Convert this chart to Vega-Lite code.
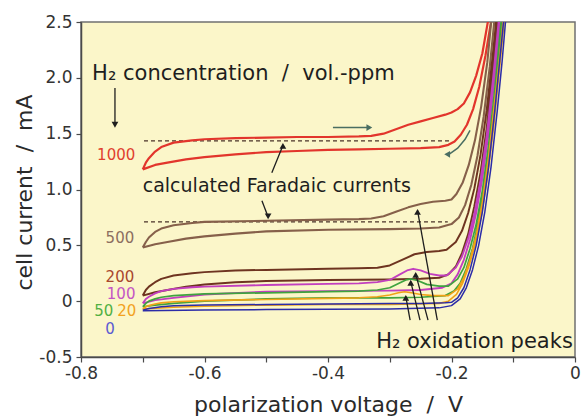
{
  "$schema": "https://vega.github.io/schema/vega-lite/v6.json",
  "width": 494,
  "height": 335,
  "autosize": {"type": "none"},
  "padding": {"left": 81, "top": 22, "right": 9, "bottom": 59},
  "background": "#ffffff",
  "config": {
    "view": {"stroke": "#707070", "strokeWidth": 1.5, "fill": "#fbf6c9"},
    "font": "DejaVu Sans",
    "axis": {
      "grid": false,
      "domainColor": "#4a4a4a",
      "domainWidth": 1.5,
      "tickColor": "#4a4a4a",
      "tickWidth": 1.2,
      "tickSize": 5,
      "labelFont": "DejaVu Sans",
      "labelFontSize": 17,
      "labelColor": "#333333",
      "titleFont": "DejaVu Sans",
      "titleFontSize": 22,
      "titleFontWeight": "normal",
      "titleColor": "#2a2a2a",
      "labelOverlap": false,
      "labelFlush": false
    }
  },
  "resolve": {"scale": {"color": "independent"}},
  "datasets": {
    "curves": [
      {"c":"1000","x":-0.7,"y":1.18},{"c":"1000","x":-0.695,"y":1.24},{"c":"1000","x":-0.69,"y":1.28},{"c":"1000","x":-0.68,"y":1.34},{"c":"1000","x":-0.67,"y":1.38},{"c":"1000","x":-0.65,"y":1.42},{"c":"1000","x":-0.62,"y":1.44},{"c":"1000","x":-0.6,"y":1.45},{"c":"1000","x":-0.55,"y":1.46},{"c":"1000","x":-0.5,"y":1.465},{"c":"1000","x":-0.45,"y":1.47},{"c":"1000","x":-0.4,"y":1.47},{"c":"1000","x":-0.35,"y":1.475},{"c":"1000","x":-0.33,"y":1.48},{"c":"1000","x":-0.31,"y":1.5},{"c":"1000","x":-0.29,"y":1.54},{"c":"1000","x":-0.27,"y":1.58},{"c":"1000","x":-0.25,"y":1.61},{"c":"1000","x":-0.23,"y":1.64},{"c":"1000","x":-0.21,"y":1.67},{"c":"1000","x":-0.2,"y":1.69},{"c":"1000","x":-0.19,"y":1.72},{"c":"1000","x":-0.18,"y":1.77},{"c":"1000","x":-0.17,"y":1.87},{"c":"1000","x":-0.16,"y":2.02},{"c":"1000","x":-0.15,"y":2.22},{"c":"1000","x":-0.138,"y":2.6},
      {"c":"1000","x":-0.133,"y":2.6},{"c":"1000","x":-0.145,"y":2.2},{"c":"1000","x":-0.155,"y":1.92},{"c":"1000","x":-0.165,"y":1.72},{"c":"1000","x":-0.175,"y":1.58},{"c":"1000","x":-0.185,"y":1.49},{"c":"1000","x":-0.195,"y":1.43},{"c":"1000","x":-0.205,"y":1.4},{"c":"1000","x":-0.22,"y":1.38},{"c":"1000","x":-0.25,"y":1.37},{"c":"1000","x":-0.3,"y":1.365},{"c":"1000","x":-0.35,"y":1.36},{"c":"1000","x":-0.4,"y":1.355},{"c":"1000","x":-0.45,"y":1.345},{"c":"1000","x":-0.5,"y":1.335},{"c":"1000","x":-0.55,"y":1.315},{"c":"1000","x":-0.6,"y":1.29},{"c":"1000","x":-0.63,"y":1.27},{"c":"1000","x":-0.66,"y":1.24},{"c":"1000","x":-0.68,"y":1.22},{"c":"1000","x":-0.7,"y":1.18},

      {"c":"500","x":-0.7,"y":0.48},{"c":"500","x":-0.695,"y":0.53},{"c":"500","x":-0.69,"y":0.57},{"c":"500","x":-0.68,"y":0.62},{"c":"500","x":-0.67,"y":0.65},{"c":"500","x":-0.65,"y":0.68},{"c":"500","x":-0.62,"y":0.7},{"c":"500","x":-0.6,"y":0.71},{"c":"500","x":-0.5,"y":0.72},{"c":"500","x":-0.4,"y":0.73},{"c":"500","x":-0.35,"y":0.735},{"c":"500","x":-0.33,"y":0.74},{"c":"500","x":-0.31,"y":0.76},{"c":"500","x":-0.29,"y":0.8},{"c":"500","x":-0.27,"y":0.84},{"c":"500","x":-0.25,"y":0.87},{"c":"500","x":-0.23,"y":0.89},{"c":"500","x":-0.21,"y":0.9},{"c":"500","x":-0.2,"y":0.91},{"c":"500","x":-0.192,"y":0.96},{"c":"500","x":-0.182,"y":1.06},{"c":"500","x":-0.172,"y":1.22},{"c":"500","x":-0.162,"y":1.44},{"c":"500","x":-0.152,"y":1.74},{"c":"500","x":-0.142,"y":2.14},{"c":"500","x":-0.134,"y":2.6},
      {"c":"500","x":-0.129,"y":2.6},{"c":"500","x":-0.138,"y":2.1},{"c":"500","x":-0.148,"y":1.65},{"c":"500","x":-0.158,"y":1.3},{"c":"500","x":-0.168,"y":1.04},{"c":"500","x":-0.178,"y":0.86},{"c":"500","x":-0.188,"y":0.75},{"c":"500","x":-0.2,"y":0.69},{"c":"500","x":-0.22,"y":0.66},{"c":"500","x":-0.25,"y":0.65},{"c":"500","x":-0.3,"y":0.645},{"c":"500","x":-0.4,"y":0.64},{"c":"500","x":-0.5,"y":0.625},{"c":"500","x":-0.55,"y":0.605},{"c":"500","x":-0.6,"y":0.58},{"c":"500","x":-0.63,"y":0.56},{"c":"500","x":-0.66,"y":0.53},{"c":"500","x":-0.68,"y":0.51},{"c":"500","x":-0.7,"y":0.48},

      {"c":"200","x":-0.7,"y":0.05},{"c":"200","x":-0.695,"y":0.1},{"c":"200","x":-0.69,"y":0.13},{"c":"200","x":-0.68,"y":0.17},{"c":"200","x":-0.67,"y":0.2},{"c":"200","x":-0.65,"y":0.23},{"c":"200","x":-0.62,"y":0.25},{"c":"200","x":-0.6,"y":0.26},{"c":"200","x":-0.55,"y":0.275},{"c":"200","x":-0.5,"y":0.28},{"c":"200","x":-0.4,"y":0.29},{"c":"200","x":-0.35,"y":0.295},{"c":"200","x":-0.32,"y":0.3},{"c":"200","x":-0.3,"y":0.32},{"c":"200","x":-0.28,"y":0.37},{"c":"200","x":-0.26,"y":0.42},{"c":"200","x":-0.24,"y":0.44},{"c":"200","x":-0.22,"y":0.45},{"c":"200","x":-0.208,"y":0.46},{"c":"200","x":-0.193,"y":0.53},{"c":"200","x":-0.183,"y":0.63},{"c":"200","x":-0.173,"y":0.79},{"c":"200","x":-0.163,"y":1.01},{"c":"200","x":-0.153,"y":1.31},{"c":"200","x":-0.143,"y":1.71},{"c":"200","x":-0.133,"y":2.21},{"c":"200","x":-0.126,"y":2.6},
      {"c":"200","x":-0.123,"y":2.6},{"c":"200","x":-0.133,"y":2.05},{"c":"200","x":-0.143,"y":1.55},{"c":"200","x":-0.153,"y":1.15},{"c":"200","x":-0.163,"y":0.85},{"c":"200","x":-0.173,"y":0.6},{"c":"200","x":-0.183,"y":0.43},{"c":"200","x":-0.193,"y":0.31},{"c":"200","x":-0.205,"y":0.24},{"c":"200","x":-0.22,"y":0.21},{"c":"200","x":-0.25,"y":0.2},{"c":"200","x":-0.3,"y":0.195},{"c":"200","x":-0.4,"y":0.19},{"c":"200","x":-0.5,"y":0.18},{"c":"200","x":-0.55,"y":0.17},{"c":"200","x":-0.6,"y":0.15},{"c":"200","x":-0.63,"y":0.13},{"c":"200","x":-0.66,"y":0.1},{"c":"200","x":-0.68,"y":0.08},{"c":"200","x":-0.7,"y":0.05},

      {"c":"100","x":-0.7,"y":-0.02},{"c":"100","x":-0.695,"y":0.02},{"c":"100","x":-0.69,"y":0.04},{"c":"100","x":-0.68,"y":0.07},{"c":"100","x":-0.67,"y":0.09},{"c":"100","x":-0.65,"y":0.11},{"c":"100","x":-0.62,"y":0.125},{"c":"100","x":-0.6,"y":0.13},{"c":"100","x":-0.5,"y":0.145},{"c":"100","x":-0.4,"y":0.155},{"c":"100","x":-0.35,"y":0.16},{"c":"100","x":-0.32,"y":0.17},{"c":"100","x":-0.3,"y":0.19},{"c":"100","x":-0.285,"y":0.235},{"c":"100","x":-0.272,"y":0.275},{"c":"100","x":-0.262,"y":0.29},{"c":"100","x":-0.25,"y":0.275},{"c":"100","x":-0.235,"y":0.245},{"c":"100","x":-0.22,"y":0.23},{"c":"100","x":-0.208,"y":0.23},{"c":"100","x":-0.193,"y":0.3},{"c":"100","x":-0.183,"y":0.4},{"c":"100","x":-0.173,"y":0.56},{"c":"100","x":-0.163,"y":0.78},{"c":"100","x":-0.153,"y":1.08},{"c":"100","x":-0.143,"y":1.48},{"c":"100","x":-0.133,"y":1.98},{"c":"100","x":-0.122,"y":2.6},
      {"c":"100","x":-0.119,"y":2.6},{"c":"100","x":-0.13,"y":2.0},{"c":"100","x":-0.14,"y":1.5},{"c":"100","x":-0.15,"y":1.1},{"c":"100","x":-0.16,"y":0.79},{"c":"100","x":-0.17,"y":0.55},{"c":"100","x":-0.18,"y":0.37},{"c":"100","x":-0.19,"y":0.24},{"c":"100","x":-0.2,"y":0.16},{"c":"100","x":-0.215,"y":0.12},{"c":"100","x":-0.25,"y":0.1},{"c":"100","x":-0.3,"y":0.095},{"c":"100","x":-0.4,"y":0.09},{"c":"100","x":-0.5,"y":0.085},{"c":"100","x":-0.6,"y":0.06},{"c":"100","x":-0.65,"y":0.03},{"c":"100","x":-0.68,"y":0.01},{"c":"100","x":-0.7,"y":-0.02},

      {"c":"50","x":-0.7,"y":-0.05},{"c":"50","x":-0.695,"y":-0.02},{"c":"50","x":-0.69,"y":0.0},{"c":"50","x":-0.68,"y":0.02},{"c":"50","x":-0.67,"y":0.035},{"c":"50","x":-0.65,"y":0.05},{"c":"50","x":-0.6,"y":0.065},{"c":"50","x":-0.5,"y":0.075},{"c":"50","x":-0.4,"y":0.085},{"c":"50","x":-0.35,"y":0.09},{"c":"50","x":-0.32,"y":0.1},{"c":"50","x":-0.3,"y":0.12},{"c":"50","x":-0.285,"y":0.16},{"c":"50","x":-0.274,"y":0.19},{"c":"50","x":-0.266,"y":0.2},{"c":"50","x":-0.255,"y":0.185},{"c":"50","x":-0.24,"y":0.15},{"c":"50","x":-0.22,"y":0.135},{"c":"50","x":-0.205,"y":0.135},{"c":"50","x":-0.19,"y":0.2},{"c":"50","x":-0.18,"y":0.3},{"c":"50","x":-0.17,"y":0.47},{"c":"50","x":-0.16,"y":0.69},{"c":"50","x":-0.15,"y":0.99},{"c":"50","x":-0.14,"y":1.39},{"c":"50","x":-0.13,"y":1.89},{"c":"50","x":-0.118,"y":2.6},
      {"c":"50","x":-0.116,"y":2.6},{"c":"50","x":-0.126,"y":2.05},{"c":"50","x":-0.136,"y":1.5},{"c":"50","x":-0.146,"y":1.05},{"c":"50","x":-0.156,"y":0.72},{"c":"50","x":-0.166,"y":0.47},{"c":"50","x":-0.176,"y":0.29},{"c":"50","x":-0.186,"y":0.16},{"c":"50","x":-0.196,"y":0.09},{"c":"50","x":-0.21,"y":0.05},{"c":"50","x":-0.25,"y":0.035},{"c":"50","x":-0.3,"y":0.03},{"c":"50","x":-0.4,"y":0.03},{"c":"50","x":-0.5,"y":0.02},{"c":"50","x":-0.6,"y":0.0},{"c":"50","x":-0.65,"y":-0.02},{"c":"50","x":-0.68,"y":-0.035},{"c":"50","x":-0.7,"y":-0.05},

      {"c":"20","x":-0.7,"y":-0.07},{"c":"20","x":-0.695,"y":-0.05},{"c":"20","x":-0.69,"y":-0.04},{"c":"20","x":-0.68,"y":-0.025},{"c":"20","x":-0.67,"y":-0.015},{"c":"20","x":-0.65,"y":-0.005},{"c":"20","x":-0.6,"y":0.005},{"c":"20","x":-0.5,"y":0.015},{"c":"20","x":-0.4,"y":0.025},{"c":"20","x":-0.35,"y":0.03},{"c":"20","x":-0.32,"y":0.04},{"c":"20","x":-0.3,"y":0.055},{"c":"20","x":-0.286,"y":0.075},{"c":"20","x":-0.276,"y":0.085},{"c":"20","x":-0.265,"y":0.075},{"c":"20","x":-0.25,"y":0.06},{"c":"20","x":-0.23,"y":0.05},{"c":"20","x":-0.205,"y":0.05},{"c":"20","x":-0.19,"y":0.11},{"c":"20","x":-0.18,"y":0.21},{"c":"20","x":-0.17,"y":0.37},{"c":"20","x":-0.16,"y":0.59},{"c":"20","x":-0.15,"y":0.89},{"c":"20","x":-0.14,"y":1.29},{"c":"20","x":-0.13,"y":1.79},{"c":"20","x":-0.12,"y":2.3},{"c":"20","x":-0.115,"y":2.6},
      {"c":"20","x":-0.113,"y":2.6},{"c":"20","x":-0.122,"y":2.1},{"c":"20","x":-0.132,"y":1.55},{"c":"20","x":-0.142,"y":1.1},{"c":"20","x":-0.152,"y":0.76},{"c":"20","x":-0.162,"y":0.5},{"c":"20","x":-0.172,"y":0.31},{"c":"20","x":-0.182,"y":0.16},{"c":"20","x":-0.192,"y":0.06},{"c":"20","x":-0.205,"y":0.0},{"c":"20","x":-0.22,"y":-0.02},{"c":"20","x":-0.3,"y":-0.03},{"c":"20","x":-0.4,"y":-0.03},{"c":"20","x":-0.5,"y":-0.035},{"c":"20","x":-0.6,"y":-0.045},{"c":"20","x":-0.65,"y":-0.055},{"c":"20","x":-0.7,"y":-0.07},

      {"c":"0","x":-0.7,"y":-0.08},{"c":"0","x":-0.69,"y":-0.065},{"c":"0","x":-0.67,"y":-0.05},{"c":"0","x":-0.65,"y":-0.04},{"c":"0","x":-0.6,"y":-0.035},{"c":"0","x":-0.5,"y":-0.03},{"c":"0","x":-0.4,"y":-0.025},{"c":"0","x":-0.3,"y":-0.02},{"c":"0","x":-0.25,"y":-0.02},{"c":"0","x":-0.21,"y":-0.015},{"c":"0","x":-0.2,"y":-0.01},{"c":"0","x":-0.19,"y":0.03},{"c":"0","x":-0.18,"y":0.12},{"c":"0","x":-0.17,"y":0.28},{"c":"0","x":-0.16,"y":0.5},{"c":"0","x":-0.15,"y":0.8},{"c":"0","x":-0.14,"y":1.2},{"c":"0","x":-0.13,"y":1.7},{"c":"0","x":-0.122,"y":2.15},{"c":"0","x":-0.114,"y":2.6},
      {"c":"0","x":-0.111,"y":2.6},{"c":"0","x":-0.118,"y":2.15},{"c":"0","x":-0.126,"y":1.7},{"c":"0","x":-0.136,"y":1.2},{"c":"0","x":-0.146,"y":0.8},{"c":"0","x":-0.156,"y":0.5},{"c":"0","x":-0.166,"y":0.28},{"c":"0","x":-0.176,"y":0.12},{"c":"0","x":-0.186,"y":0.02},{"c":"0","x":-0.2,"y":-0.04},{"c":"0","x":-0.22,"y":-0.06},{"c":"0","x":-0.3,"y":-0.07},{"c":"0","x":-0.5,"y":-0.075},{"c":"0","x":-0.6,"y":-0.08},{"c":"0","x":-0.7,"y":-0.085}
    ],
    "dashes": [
      {"d":"1000","x":-0.698,"y":1.435},{"d":"1000","x":-0.2,"y":1.435},
      {"d":"500","x":-0.698,"y":0.71},{"d":"500","x":-0.206,"y":0.71}
    ],
    "arrows": [
      {"a":"h2","x":-0.745,"y":1.91},{"a":"h2","x":-0.745,"y":1.6},
      {"a":"f1","x":-0.491,"y":1.15},{"a":"f1","x":-0.474,"y":1.38},
      {"a":"f2","x":-0.507,"y":0.9},{"a":"f2","x":-0.498,"y":0.77},
      {"a":"pa","x":-0.223,"y":-0.17},{"a":"pa","x":-0.255,"y":0.81},
      {"a":"pb","x":-0.238,"y":-0.17},{"a":"pb","x":-0.258,"y":0.245},
      {"a":"pc","x":-0.251,"y":-0.17},{"a":"pc","x":-0.266,"y":0.175},
      {"a":"pd","x":-0.267,"y":-0.17},{"a":"pd","x":-0.274,"y":0.04}
    ],
    "scanarrows": [
      {"a":"fw","x":-0.392,"y":1.555},{"a":"fw","x":-0.336,"y":1.555},
      {"a":"rv","x":-0.17,"y":1.53},{"a":"rv","x":-0.178,"y":1.45},{"a":"rv","x":-0.19,"y":1.37},{"a":"rv","x":-0.203,"y":1.32}
    ],
    "heads": [
      {"k":"dark","dir":"down","x":-0.745,"y":1.58},
      {"k":"dark","dir":"up","x":-0.473,"y":1.39},
      {"k":"dark","dir":"down","x":-0.497,"y":0.76},
      {"k":"dark","dir":"up","x":-0.255,"y":0.8},
      {"k":"dark","dir":"up","x":-0.258,"y":0.235},
      {"k":"dark","dir":"up","x":-0.266,"y":0.165},
      {"k":"dark","dir":"up","x":-0.274,"y":0.03},
      {"k":"scan","dir":"right","x":-0.333,"y":1.555},
      {"k":"scan","dir":"left","x":-0.207,"y":1.315}
    ],
    "labels": [
      {"c":"1000","x":-0.743,"y":1.31},
      {"c":"500","x":-0.737,"y":0.566},
      {"c":"200","x":-0.737,"y":0.215},
      {"c":"100","x":-0.735,"y":0.06},
      {"c":"50","x":-0.763,"y":-0.092},
      {"c":"20","x":-0.726,"y":-0.092},
      {"c":"0","x":-0.753,"y":-0.245}
    ]
  },
  "layer": [
    {
      "data": {"name": "dashes"},
      "mark": {"type": "line", "strokeDash": [4, 3], "strokeWidth": 1.3, "color": "#4a3228"},
      "encoding": {
        "x": {
          "field": "x", "type": "quantitative",
          "scale": {"domain": [-0.8, 0], "nice": false, "zero": false},
          "axis": {
            "values": [-0.8, -0.7, -0.6, -0.5, -0.4, -0.3, -0.2, -0.1, 0],
            "labelExpr": "round(datum.value*10) % 2 != 0 ? '' : (datum.value == 0 ? '0' : (datum.value < 0 ? '-' : '') + format(abs(datum.value), '.1f'))",
            "labelPadding": 3,
            "title": "polarization voltage \u00a0/\u00a0 V",
            "titleX": 247,
            "titleY": 54,
            "titleAlign": "center",
            "titleBaseline": "alphabetic"
          }
        },
        "y": {
          "field": "y", "type": "quantitative",
          "scale": {"domain": [-0.5, 2.5], "nice": false, "zero": false},
          "axis": {
            "values": [-0.5, -0.25, 0, 0.25, 0.5, 0.75, 1, 1.25, 1.5, 1.75, 2, 2.25, 2.5],
            "labelExpr": "round(datum.value*4) % 2 != 0 ? '' : (datum.value == 0 ? '0' : (datum.value < 0 ? '-' : '') + format(abs(datum.value), '.1f'))",
            "labelPadding": 4,
            "title": "cell current \u00a0/\u00a0 mA",
            "titleAngle": 270,
            "titleX": -50,
            "titleY": 170,
            "titleAlign": "center",
            "titleBaseline": "alphabetic"
          }
        },
        "detail": {"field": "d"},
        "order": {"value": null}
      }
    },
    {
      "data": {"name": "curves"},
      "mark": {"type": "line", "clip": true, "strokeJoin": "round"},
      "encoding": {
        "x": {"field": "x", "type": "quantitative"},
        "y": {"field": "y", "type": "quantitative"},
        "color": {
          "field": "c", "type": "nominal", "legend": null,
          "scale": {
            "domain": ["1000", "500", "200", "100", "50", "20", "0"],
            "range": ["#e2352c", "#86604a", "#6e3420", "#c23fbf", "#3fa33f", "#f0a218", "#2c2ca8"]
          }
        },
        "strokeWidth": {
          "field": "c", "type": "nominal", "legend": null,
          "scale": {
            "domain": ["1000", "500", "200", "100", "50", "20", "0"],
            "range": [2.2, 1.5, 1.6, 1.6, 1.6, 1.6, 2.6]
          }
        },
        "order": {"value": null}
      }
    },
    {
      "data": {"name": "arrows"},
      "mark": {"type": "line", "color": "#1e1e1e", "strokeWidth": 1.3},
      "encoding": {
        "x": {"field": "x", "type": "quantitative"},
        "y": {"field": "y", "type": "quantitative"},
        "detail": {"field": "a"},
        "order": {"value": null}
      }
    },
    {
      "data": {"name": "scanarrows"},
      "mark": {"type": "line", "color": "#4a6e62", "strokeWidth": 1.5},
      "encoding": {
        "x": {"field": "x", "type": "quantitative"},
        "y": {"field": "y", "type": "quantitative"},
        "detail": {"field": "a"},
        "order": {"value": null}
      }
    },
    {
      "data": {"name": "heads"},
      "mark": {"type": "point", "filled": true, "size": 45, "opacity": 1},
      "encoding": {
        "x": {"field": "x", "type": "quantitative"},
        "y": {"field": "y", "type": "quantitative"},
        "shape": {
          "field": "dir", "type": "nominal", "legend": null,
          "scale": {"domain": ["up", "down", "left", "right"], "range": ["triangle-up", "triangle-down", "triangle-left", "triangle-right"]}
        },
        "fill": {
          "field": "k", "type": "nominal", "legend": null,
          "scale": {"domain": ["dark", "scan"], "range": ["#1e1e1e", "#4a6e62"]}
        }
      }
    },
    {
      "data": {"name": "labels"},
      "mark": {"type": "text", "fontSize": 15, "align": "center", "baseline": "middle", "font": "DejaVu Sans"},
      "encoding": {
        "x": {"field": "x", "type": "quantitative"},
        "y": {"field": "y", "type": "quantitative"},
        "text": {"field": "c"},
        "color": {
          "field": "c", "type": "nominal", "legend": null,
          "scale": {
            "domain": ["1000", "500", "200", "100", "50", "20", "0"],
            "range": ["#e0402e", "#8c6e60", "#a8472e", "#c455c4", "#52b043", "#f2a21e", "#5a5ad2"]
          }
        }
      }
    },
    {
      "data": {"values": [{"t": "H\u2082 concentration \u00a0/\u00a0 vol.-ppm", "x": -0.782, "y": 1.98}]},
      "mark": {"type": "text", "fontSize": 21, "align": "left", "baseline": "alphabetic", "color": "#1e1e1e", "font": "DejaVu Sans"},
      "encoding": {
        "x": {"field": "x", "type": "quantitative"},
        "y": {"field": "y", "type": "quantitative"},
        "text": {"field": "t"}
      }
    },
    {
      "data": {"values": [{"t": "calculated Faradaic currents", "x": -0.7, "y": 0.978}]},
      "mark": {"type": "text", "fontSize": 19, "align": "left", "baseline": "alphabetic", "color": "#1e1e1e", "font": "DejaVu Sans"},
      "encoding": {
        "x": {"field": "x", "type": "quantitative"},
        "y": {"field": "y", "type": "quantitative"},
        "text": {"field": "t"}
      }
    },
    {
      "data": {"values": [{"t": "H\u2082 oxidation peaks", "x": -0.0035, "y": -0.419}]},
      "mark": {"type": "text", "fontSize": 21, "align": "right", "baseline": "alphabetic", "color": "#1e1e1e", "font": "DejaVu Sans"},
      "encoding": {
        "x": {"field": "x", "type": "quantitative"},
        "y": {"field": "y", "type": "quantitative"},
        "text": {"field": "t"}
      }
    }
  ]
}
